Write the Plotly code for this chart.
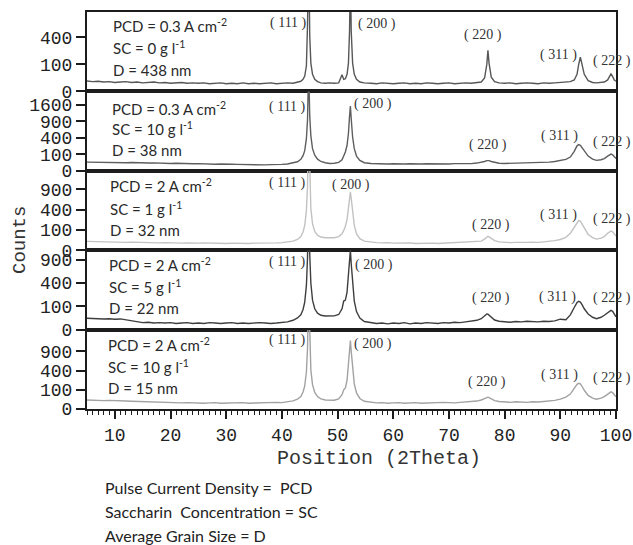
import numpy as np
import plotly.graph_objects as go

# ---------------- data ----------------
two_theta = [5, 6, 7, 8, 9, 10, 11, 12, 13, 14, 15, 16, 17, 18, 19, 20, 21, 22, 23, 24,
             25, 26, 27, 28, 29, 30, 31, 32, 33, 34, 35, 36, 37, 38, 39, 40, 41, 42,
             42.8, 43.4, 43.8, 44.1, 44.4, 44.6, 44.8, 45.0, 45.2, 45.5, 45.9, 46.4, 47.0,
             47.8, 48.6, 49.4, 50.2, 50.8, 51.1,
             51.4, 51.7, 51.95, 52.15, 52.3, 52.45, 52.7, 53.0, 53.4, 54.0, 54.8,
             56, 57, 58, 59, 60, 61, 62, 63, 64, 65, 66, 67, 68, 69, 70, 71, 72, 73, 74, 75,
             75.8, 76.4, 76.8, 77.0, 77.2, 77.6, 78.2, 79,
             80, 81, 82, 83, 84, 85, 86, 87, 88, 89, 90, 91,
             91.8, 92.5, 93.0, 93.3, 93.6, 93.9, 94.3, 95.0, 95.8,
             96.5, 97.3,
             97.9, 98.5, 98.8, 99.1, 99.4, 99.7, 100]

counts_pcd03_sc0 = [15, 13, 14, 12, 13, 11, 12, 13, 11, 12, 10, 11, 12, 10, 11, 9, 10, 11, 9, 10,
                    9, 10, 8, 9, 10, 8, 9, 8, 10, 8, 9, 8, 9, 10, 8, 9, 10, 9,
                    11, 14, 20, 32, 90, 600, 3000, 420, 110, 40, 20, 13, 10,
                    9, 10, 9, 10, 38, 20,
                    22, 40, 110, 500, 2000, 500, 110, 40, 20, 12, 10,
                    9, 8, 10, 9, 8, 9, 10, 8, 9, 8, 10, 9, 8, 9, 10, 8, 9, 10, 9, 10,
                    12, 25, 100, 230, 110, 28, 13, 10,
                    9, 10, 8, 9, 10, 9, 8, 10, 9, 10, 11, 12,
                    13, 18, 40, 100, 160, 100, 40, 16, 11,
                    10, 11,
                    12, 18, 30, 42, 30, 18, 14]

counts_pcd03_sc10 = [28, 27, 28, 26, 27, 25, 26, 24, 25, 23, 24, 22, 23, 21, 22, 20, 21, 19, 20, 18,
                     19, 17, 18, 16, 17, 15, 16, 15, 14, 15, 13, 14, 13, 14, 13, 15, 17, 22,
                     30, 48, 85, 150, 380, 950, 4000, 1100, 450, 180, 90, 50, 32,
                     24, 20, 21, 26, 45, 85,
                     130, 240, 520, 1100, 1550, 1000, 420, 180, 80, 40, 24,
                     20, 18, 19, 17, 18, 16, 17, 18, 16, 17, 18, 17, 16, 18, 17, 19, 18, 20, 19, 22,
                     25, 32, 38, 40, 38, 32, 25, 21,
                     20, 21, 20, 22, 21, 23, 24, 26, 28, 32, 38, 48,
                     70, 140, 230, 252, 240, 200, 140, 80, 50,
                     40, 45,
                     55, 80, 95, 103, 95, 75, 55]

counts_pcd2_sc1 = [19, 18, 18, 17, 17, 16, 16, 15, 16, 15, 14, 15, 14, 13, 14, 13, 13, 12, 13, 12,
                   12, 13, 12, 11, 12, 11, 12, 11, 12, 11, 12, 12, 11, 12, 13, 14, 16, 20,
                   28, 45, 80, 150, 380, 1000, 4000, 1100, 420, 170, 85, 55, 42,
                   38, 36, 38, 45, 65, 95,
                   140, 230, 460, 700, 820, 650, 330, 150, 65, 32, 20,
                   16, 14, 13, 14, 12, 13, 12, 13, 11, 12, 13, 12, 11, 12, 13, 12, 13, 14, 15, 17,
                   20, 30, 42, 47, 43, 32, 22, 17,
                   15, 14, 15, 14, 15, 16, 15, 17, 18, 22, 28, 40,
                   70, 130, 190, 213, 205, 170, 115, 60, 38,
                   30, 35,
                   45, 70, 82, 89, 82, 65, 48]

counts_pcd2_sc5 = [24, 22, 23, 21, 22, 20, 21, 18, 14, 11, 9, 10, 8, 9, 8, 9, 7, 8, 9, 7,
                   8, 7, 9, 8, 7, 8, 9, 7, 8, 7, 8, 9, 8, 7, 8, 9, 11, 16,
                   25, 40, 75, 140, 360, 950, 4000, 1050, 400, 160, 80, 50, 38,
                   34, 33, 35, 42, 80, 150,
                   160, 260, 550, 950, 1170, 800, 380, 150, 60, 25, 12,
                   9, 7, 8, 6, 8, 7, 9, 6, 8, 7, 9, 8, 7, 9, 8, 10, 9, 11, 13, 16,
                   22, 35, 45, 44, 38, 26, 17, 13,
                   12, 10, 12, 11, 13, 12, 11, 13, 12, 14, 20, 18,
                   40, 90, 135, 147, 140, 115, 80, 45, 28,
                   22, 28,
                   38, 55, 64, 68, 62, 45, 30]

counts_pcd2_sc10 = [22, 20, 21, 19, 20, 18, 19, 17, 16, 15, 14, 13, 12, 13, 11, 12, 11, 10, 11, 10,
                    11, 9, 10, 11, 9, 10, 9, 10, 11, 9, 10, 11, 10, 11, 12, 11, 13, 18,
                    26, 42, 78, 145, 370, 980, 4000, 1080, 410, 160, 75, 42, 28,
                    22, 20, 21, 28, 55, 100,
                    120, 220, 520, 1000, 1270, 900, 420, 170, 70, 30, 16,
                    12, 10, 11, 9, 10, 11, 9, 10, 11, 9, 10, 11, 10, 12, 11, 10, 12, 13, 14, 17,
                    22, 30, 37, 38, 35, 27, 19, 15,
                    13, 12, 14, 13, 12, 14, 13, 15, 16, 20, 26, 38,
                    60, 115, 165, 179, 172, 140, 95, 50, 32,
                    26, 32,
                    42, 62, 74, 79, 72, 55, 40]

series = [counts_pcd03_sc0, counts_pcd03_sc10, counts_pcd2_sc1, counts_pcd2_sc5, counts_pcd2_sc10]
pcd_values = ["0.3", "0.3", "2", "2", "2"]
sc_values = ["0", "10", "1", "5", "10"]
grain_sizes = ["438", "38", "32", "22", "15"]
hkl_labels = ["( 111 )", "( 200 )", "( 220 )", "( 311 )", "( 222 )"]
y_tick_sets = [[0, 100, 400],
               [0, 100, 400, 900, 1600],
               [0, 100, 400, 900],
               [0, 100, 400, 900],
               [0, 100, 400, 900]]
y_max_counts = [864, 2323, 1529, 1163, 1706]
x_ticks = [10, 20, 30, 40, 50, 60, 70, 80, 90, 100]

# ---------------- styling / layout ----------------
W, H = 633, 545
L, R, T, B = 87, 17, 12, 136
PW, PH = W - L - R, H - T - B
line_colors = ["#575757", "#5e5e5e", "#c2c2c2", "#3e3e3e", "#a2a2a2"]
AX = "#1c1c1c"


def pxx(xp):
    # reference-pixel x -> paper fraction
    return (xp - L) / PW


def pxy(yp):
    # reference-pixel y -> paper fraction
    return (H - B - yp) / PH


fig = go.Figure()
n = len(series)
layout = dict(
    width=W, height=H, autosize=False,
    margin=dict(l=L, r=R, t=T, b=B, pad=0, autoexpand=False),
    paper_bgcolor="white", plot_bgcolor="white",
    showlegend=False,
)

for i, counts in enumerate(series):
    k = i + 1
    fig.add_trace(go.Scatter(
        x=two_theta, y=np.sqrt(np.array(counts, dtype=float)),
        xaxis=f"x{k}", yaxis=f"y{k}", mode="lines",
        line=dict(color=line_colors[i], width=1.4),
        hoverinfo="skip"))
    ymax = np.sqrt(y_max_counts[i])
    tv = y_tick_sets[i]
    dom = [1 - (i + 1) / n, 1 - i / n]
    layout[f"yaxis{k}"] = dict(
        domain=dom, range=[0, ymax], anchor=f"x{k}", automargin=False,
        tickvals=[float(np.sqrt(c)) for c in tv], ticktext=[str(c) for c in tv],
        ticks="outside", ticklen=9, tickwidth=1.5, tickcolor=AX,
        showline=True, linecolor=AX, linewidth=2, mirror=True,
        showgrid=False, zeroline=False,
        tickfont=dict(family="Liberation Mono", size=18, color="#222"),
    )
    bottom = (k == n)
    xa = dict(
        domain=[0, 1], range=[5, 100], anchor=f"y{k}", automargin=False,
        showline=True, linecolor=AX, linewidth=2, mirror=True,
        showgrid=False, zeroline=False,
        showticklabels=bottom,
        tickvals=x_ticks if bottom else [],
        ticks="outside" if bottom else "",
        ticklen=8, tickwidth=1.5, tickcolor=AX,
        tickfont=dict(family="Liberation Mono", size=18, color="#222"),
    )
    if bottom:
        xa["minor"] = dict(dtick=1, tick0=0, ticks="outside", ticklen=4,
                           tickwidth=1, tickcolor=AX)
    layout[f"xaxis{k}"] = xa

fig.update_layout(**layout)

# panel condition labels (reference pixel positions)
label_x = [111, 110, 108, 107, 106]
label_y = [(25, 48, 70), (108, 128, 150), (185, 208, 230), (264, 287, 308), (344, 366, 388)]
ann = []
for i in range(n):
    texts = [f"PCD = {pcd_values[i]} A cm<sup>-2</sup>",
             f"SC = {sc_values[i]} g l<sup>-1</sup>",
             f"D = {grain_sizes[i]} nm"]
    for t, yp in zip(texts, label_y[i]):
        ann.append(dict(x=pxx(label_x[i]), y=pxy(yp), xref="paper", yref="paper",
                        text=t, showarrow=False, xanchor="left", yanchor="middle",
                        font=dict(family="Lato", size=15, color="#2a2a2a")))

hkl_pos = [
    [(288, 23), (377, 24), (483, 35), (558, 55), (612, 61)],
    [(287, 107), (373, 104), (488, 145), (559, 136), (612, 142)],
    [(287, 183), (351, 185), (491, 225), (558, 215), (612, 219)],
    [(287, 262), (374, 265), (491, 298), (557, 297), (612, 298)],
    [(287, 340), (373, 344), (487, 382), (559, 375), (612, 378)],
]
for i in range(n):
    for lab, (xp, yp) in zip(hkl_labels, hkl_pos[i]):
        ann.append(dict(x=pxx(xp), y=pxy(yp), xref="paper", yref="paper",
                        text=lab, showarrow=False, xanchor="center", yanchor="middle",
                        font=dict(family="Liberation Serif", size=14, color="#333")))

ann.append(dict(x=pxx(20), y=pxy(240), xref="paper", yref="paper", text="Counts",
                textangle=-90, showarrow=False, xanchor="center", yanchor="middle",
                font=dict(family="Liberation Mono", size=19, color="#333")))
ann.append(dict(x=pxx(379), y=pxy(458), xref="paper", yref="paper", text="Position (2Theta)",
                showarrow=False, xanchor="center", yanchor="middle",
                font=dict(family="Liberation Mono", size=20, color="#333")))

notes = ["Pulse Current Density =  PCD", "Saccharin  Concentration = SC", "Average Grain Size = D"]
for t, yp in zip(notes, [487, 512, 535]):
    ann.append(dict(x=pxx(103), y=pxy(yp), xref="paper", yref="paper", text=t,
                    showarrow=False, xanchor="left", yanchor="middle",
                    font=dict(family="Lato", size=16, color="#222")))

fig.update_layout(annotations=ann)
fig.write_html(
    "out.html", default_width=f"{W}px", default_height=f"{H}px",
    config={"responsive": False, "displayModeBar": False},
    post_script=("document.body.style.margin='0';document.body.style.padding='0';"
                 "document.documentElement.style.overflow='hidden';"))
